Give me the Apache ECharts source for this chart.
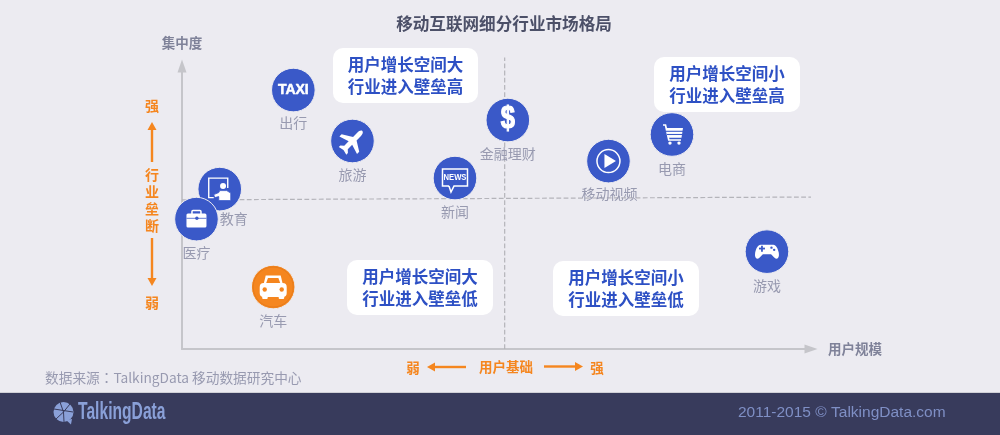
<!DOCTYPE html>
<html>
<head>
<meta charset="utf-8">
<style>html,body{margin:0;padding:0;background:#ecebf1}#c{width:1000px;height:435px}</style>
<script src="https://cdn.jsdelivr.net/npm/echarts@6/dist/echarts.min.js"></script>
</head>
<body>
<div id="c"></div>
<script>
var categories = ['出行','旅游','金融理财','新闻','移动视频','电商','教育','医疗','汽车','游戏'];
var userBase   = [17.7,27.1,51.8,43.4,67.8,77.9,6.0,2.3,14.5,93.0];
var concentration = [91.5,73.5,80.9,60.4,66.4,75.8,56.5,45.9,21.9,34.4];
var quadrantNotes = [
  '用户增长空间大\n行业进入壁垒高','用户增长空间小\n行业进入壁垒高',
  '用户增长空间大\n行业进入壁垒低','用户增长空间小\n行业进入壁垒低'
];
var verticalDivider = [[51.3,0],[51.3,103]];
var horizontalDivider = [[0,52.7],[100,53.7]];

var CJK = '"Noto Sans CJK SC","Noto Sans",sans-serif';
var CJKTC = '"Noto Sans CJK TC","Noto Sans",sans-serif';
var BG = '#ecebf1', BLUE = '#3a59c8', ORANGE = '#f5861f', NAVY = '#383b5c';
var GREY = '#989ab0', AXIS = '#c5c5ca', NOTE = '#2d50c4';

function W(extra){ var s = {fill:'#fff'}; for (var k in extra) s[k]=extra[k]; return s; }
function outline(w){ return {fill:'none',stroke:'#fff',lineWidth:w||1.5}; }
var icons = {
  '出行': function(){ return [{type:'text',style:{text:'TAXI',x:0,y:0,fill:'#fff',font:'900 14px "Liberation Sans",sans-serif',align:'center',verticalAlign:'middle',stroke:'#fff',lineWidth:0.5}}]; },
  '旅游': function(){ return [{type:'path',rotation:-Math.PI/4,
      shape:{x:-13,y:-14,width:26,height:28,pathData:'M0,-16 C2,-16 2.8,-13 2.8,-11 L2.8,-4 L14,3 L14,6.5 L2.8,3 L2.8,10 L6,13 L6,15.5 L0,14 L-6,15.5 L-6,13 L-2.8,10 L-2.8,3 L-14,6.5 L-14,3 L-2.8,-4 L-2.8,-11 C-2.8,-13 -2,-16 0,-16 Z'},style:W()}]; },
  '金融理财': function(){ return [{type:'text',scaleX:0.82,style:{text:'$',x:0,y:-1,fill:'#fff',font:'bold 31px "Liberation Sans",sans-serif',align:'center',verticalAlign:'middle',stroke:'#fff',lineWidth:1.2}}]; },
  '新闻': function(){ return [
      {type:'polyline',shape:{points:[[-6,8],[-12.5,8],[-12.5,-9],[12.5,-9],[12.5,8],[-1,8],[-4,14],[-6,8]]},style:outline(1.5)},
      {type:'text',scaleX:0.85,style:{text:'NEWS',x:0,y:-0.5,fill:'#fff',font:'bold 9px "Liberation Sans",sans-serif',align:'center',verticalAlign:'middle'}}
    ]; },
  '移动视频': function(){ return [
      {type:'circle',shape:{cx:0,cy:0,r:11.5},style:outline(1.5)},
      {type:'polygon',shape:{points:[[-4,-7],[7.5,0],[-4,7]]},style:W()}
    ]; },
  '电商': function(){ return [
      {type:'polyline',shape:{points:[[-9,-9.5],[-6.5,-9.5],[-3.2,5.5],[9,5.5]]},style:outline(1.7)},
      {type:'polygon',shape:{points:[[-6,-6.5],[11,-6.5],[9.5,3.2],[-4,3.2]]},style:W()},
      {type:'line',shape:{x1:-6,y1:-3.2,x2:11,y2:-3.2},style:{stroke:BLUE,lineWidth:1.1}},
      {type:'line',shape:{x1:-5,y1:0,x2:10,y2:0},style:{stroke:BLUE,lineWidth:1.1}},
      {type:'circle',shape:{cx:-2,cy:8.6,r:1.7},style:W()},
      {type:'circle',shape:{cx:7,cy:8.6,r:1.7},style:W()}
    ]; },
  '教育': function(){ return [
      {type:'polyline',shape:{points:[[-6,8.5],[-11,8.5],[-11,-11],[8,-11],[8,-1]]},style:outline(1.4)},
      {type:'circle',shape:{cx:3.3,cy:-3.2,r:3},style:W()},
      {type:'polygon',shape:{points:[[-6,5.5],[-1,3.5],[0,1.5],[7,1.5],[11,4],[11,11.5],[-1,11.5],[-1,7.5],[-5,8.5]]},style:{fill:'#fff',stroke:BLUE,lineWidth:0.8}}
    ]; },
  '医疗': function(){ return [
      {type:'rect',shape:{x:-4.5,y:-8.5,width:9,height:5,r:1},style:outline(1.5)},
      {type:'rect',shape:{x:-10,y:-5.5,width:20,height:14,r:1.5},style:W()},
      {type:'line',shape:{x1:-10,y1:-0.8,x2:10,y2:-0.8},style:{stroke:BLUE,lineWidth:0.8}},
      {type:'circle',shape:{cx:0.4,cy:-0.8,r:1.7},style:{fill:BLUE}}
    ]; },
  '汽车': function(){ return [
      {type:'circle',shape:{cx:0,cy:0,r:20},style:{fill:'none',stroke:'#e2791a',lineWidth:0.8}},
      {type:'polygon',shape:{points:[[-10,-1],[-7.5,-11.5],[7.5,-11.5],[10,-1]]},style:W()},
      {type:'rect',shape:{x:-13.5,y:-4,width:27,height:14,r:4},style:W()},
      {type:'rect',shape:{x:-11,y:8,width:5.5,height:4,r:1},style:W()},
      {type:'rect',shape:{x:5.5,y:8,width:5.5,height:4,r:1},style:W()},
      {type:'polygon',shape:{points:[[-7,-4],[-5.2,-9],[5.2,-9],[7,-4]]},style:{fill:ORANGE}},
      {type:'circle',shape:{cx:-8.5,cy:2.5,r:2.2},style:{fill:ORANGE}},
      {type:'circle',shape:{cx:8.5,cy:2.5,r:2.2},style:{fill:ORANGE}}
    ]; },
  '游戏': function(){ return [
      {type:'path',shape:{x:-12,y:-9,width:24,height:18,pathData:'M-7,-7 L7,-7 C10,-7 12,-3 13,2 C14,8 11,10 8,7 L4.5,3.5 L-4.5,3.5 L-8,7 C-11,10 -14,8 -13,2 C-12,-3 -10,-7 -7,-7 Z'},style:W()},
      {type:'rect',shape:{x:-8,y:-4,width:6,height:1.8},style:{fill:BLUE}},
      {type:'rect',shape:{x:-5.9,y:-6,width:1.8,height:6},style:{fill:BLUE}},
      {type:'circle',shape:{cx:4.5,cy:-4,r:1.2},style:{fill:BLUE}},
      {type:'circle',shape:{cx:7.2,cy:-1.8,r:1.2},style:{fill:BLUE}}
    ]; }
};
var labelOffset = {'教育':[14,30],'移动视频':[1,33],'出行':[0,33]};

function renderPoint(params, api){
  var c = api.coord([api.value(0), api.value(1)]);
  var name = categories[params.dataIndex];
  var off = labelOffset[name] || [0,34];
  return {
    type:'group', x:c[0], y:c[1],
    children:[
      {type:'circle',shape:{cx:0,cy:0,r:21.8},style:{fill:name==='汽车'?ORANGE:BLUE,stroke:BG,lineWidth:1}},
      {type:'group',children:icons[name]()},
      {type:'text',style:{text:name,x:off[0],y:off[1],fill:GREY,font:'14px '+CJK,align:'center',verticalAlign:'middle'}}
    ]
  };
}

function txt(text,x,y,font,fill,align,extra){
  var el = {type:'text',x:x,y:y,z:5,style:{text:text,x:0,y:0,font:font,fill:fill,align:align||'center',verticalAlign:'middle'}};
  for (var k in extra) el[k]=extra[k];
  return el;
}
function arrowLine(x1,y1,x2,y2,color){
  var dx=x2-x1,dy=y2-y1,l=Math.sqrt(dx*dx+dy*dy),ux=dx/l,uy=dy/l,h=8,w=4.5;
  var bx=x2-ux*h,by=y2-uy*h;
  return [
    {type:'line',z:5,shape:{x1:x1,y1:y1,x2:bx,y2:by},style:{stroke:color,lineWidth:2.4}},
    {type:'polygon',z:5,shape:{points:[[x2,y2],[bx-uy*w,by+ux*w],[bx+uy*w,by-ux*w]]},style:{fill:color}}
  ];
}
function note(text,x,y,w,h){
  return [
    {type:'rect',z:3,shape:{x:x,y:y,width:w,height:h,r:10},style:{fill:'#fff'}},
    {type:'text',z:4,x:x+w/2,y:y+h/2,style:{text:text,x:0,y:0,font:'bold 16.5px '+CJK,lineHeight:22,fill:NOTE,align:'center',verticalAlign:'middle'}}
  ];
}

var gfx = [
  {type:'rect',z:1,shape:{x:0,y:393,width:1000,height:42},style:{fill:NAVY}},
  {type:'line',z:1,shape:{x1:0,y1:392.5,x2:1000,y2:392.5},style:{stroke:'#d0d0d6',lineWidth:1}},
  txt('移动互联网细分行业市场格局',504,24,'bold 16.6px '+CJK,'#4c5068'),
  txt('集中度',182,43,'bold 13.5px '+CJK,'#7f8299'),
  txt('用户规模',855,349,'bold 13.5px '+CJK,'#7f8299'),
  txt('数据来源：TalkingData 移动数据研究中心',45,378,'13.7px '+CJKTC,GREY,'left'),
  txt('强',152,106,'bold 14px '+CJK,ORANGE),
  txt('行',152,175,'bold 14px '+CJK,ORANGE),
  txt('业',152,192,'bold 14px '+CJK,ORANGE),
  txt('垒',152,209,'bold 14px '+CJK,ORANGE),
  txt('断',152,226,'bold 14px '+CJK,ORANGE),
  txt('弱',152,303,'bold 14px '+CJK,ORANGE),
  txt('弱',413,368,'bold 13.5px '+CJK,ORANGE),
  txt('用户基础',506,367,'bold 13.5px '+CJK,ORANGE),
  txt('强',597,368,'bold 13.5px '+CJK,ORANGE),
  txt('2011-2015 © TalkingData.com',738,413,'15.5px "Liberation Sans",sans-serif','#7f8fc5','left'),
  txt('TalkingData',78,413,'bold 23px "Liberation Sans",sans-serif','#8aa0d8','left',{scaleX:0.68}),
  {type:'circle',z:5,shape:{cx:63.5,cy:412,r:10},style:{fill:'#8aa0d8'}},
  {type:'polygon',z:5,shape:{points:[[66,420],[72,419],[71,424.5]]},style:{fill:'#8aa0d8'}},
  {type:'line',z:6,shape:{x1:54,y1:409,x2:73,y2:412},style:{stroke:NAVY,lineWidth:1}},
  {type:'line',z:6,shape:{x1:60,y1:402,x2:63.5,y2:412},style:{stroke:NAVY,lineWidth:1}},
  {type:'line',z:6,shape:{x1:63.5,y1:412,x2:70,y2:404},style:{stroke:NAVY,lineWidth:1}},
  {type:'line',z:6,shape:{x1:63.5,y1:412,x2:56,y2:419},style:{stroke:NAVY,lineWidth:1}},
  {type:'line',z:6,shape:{x1:63.5,y1:412,x2:64,y2:422},style:{stroke:NAVY,lineWidth:1}}
].concat(
  arrowLine(152,162,152,122,ORANGE),
  arrowLine(152,238,152,286,ORANGE),
  arrowLine(466,367,427,367,ORANGE),
  arrowLine(544,366.5,583,366.5,ORANGE),
  note(quadrantNotes[0],333,48,145,55),
  note(quadrantNotes[1],654,57,146,55),
  note(quadrantNotes[2],347,260,146,55),
  note(quadrantNotes[3],553,261,146,55)
);

var dash = {color:'#b4b4ba',type:'dashed',width:1.2};
var chart = echarts.init(document.getElementById('c'),null,{renderer:'canvas'});
var axisBase = {
  min:0,max:100,axisTick:{show:false},axisLabel:{show:false},splitLine:{show:false},
  axisLine:{show:true,onZero:false,symbol:['none','triangle'],symbolSize:[9,13],lineStyle:{color:AXIS,width:2}}
};
chart.setOption({
  backgroundColor:BG,
  animation:false,
  grid:{left:182,top:66,width:629,height:283},
  xAxis:Object.assign({type:'value'},axisBase),
  yAxis:Object.assign({type:'value'},axisBase),
  graphic:{elements:gfx},
  series:[
    {type:'line',data:verticalDivider,symbol:'none',lineStyle:dash,silent:true,z:1,clip:false},
    {type:'line',data:horizontalDivider,symbol:'none',lineStyle:dash,silent:true,z:1,clip:false},
    {type:'custom',z:4,clip:false,silent:true,
     data:categories.map(function(n,i){return [userBase[i],concentration[i]];}),
     encode:{x:0,y:1},renderItem:renderPoint}
  ]
});
</script>
</body>
</html>
